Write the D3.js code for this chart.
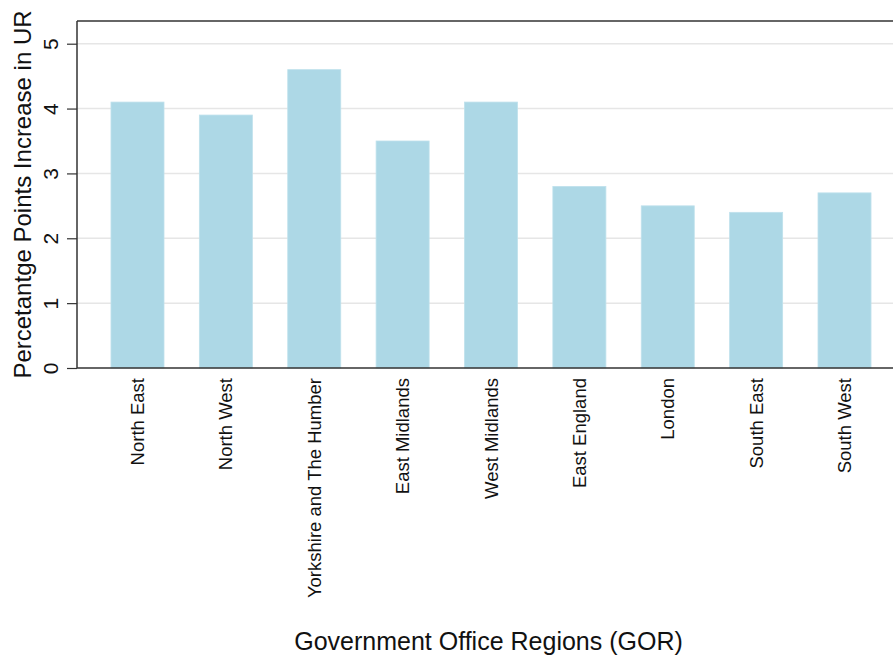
<!DOCTYPE html>
<html>
<head>
<meta charset="utf-8">
<script src="https://cdn.jsdelivr.net/npm/d3@7"></script>
<style>
  html, body { margin: 0; padding: 0; background: #fff; }
  svg { display: block; font-family: "Liberation Sans", Arial, sans-serif; }
</style>
</head>
<body>
<svg id="chart" width="893" height="662"></svg>
<script>
const regions = ["North East", "North West", "Yorkshire and The Humber", "East Midlands", "West Midlands", "East England", "London", "South East", "South West"];
const increase = [4.1, 3.9, 4.6, 3.5, 4.1, 2.8, 2.5, 2.4, 2.7];
const yTicks = [0, 1, 2, 3, 4, 5];
const yTitle = "Percetantge Points Increase in UR";
const xTitle = "Government Office Regions (GOR)";

(function () {
const svg = d3.select("#chart");
const pLeft = 77, pRight = 893, pTop = 21, pBottom = 368;

const x = d3.scaleBand().domain(regions).range([93.3, 888.7]).paddingInner(0.4).paddingOuter(0.2);
const y = d3.scaleLinear().domain([0, 5.35]).range([pBottom, pTop]);

// gridlines
svg.append("g").selectAll("line").data(yTicks.filter(d => d > 0)).join("line")
  .attr("x1", pLeft).attr("x2", pRight)
  .attr("y1", d => y(d)).attr("y2", d => y(d))
  .attr("stroke", "#e6e6e6").attr("stroke-width", 1.5);

// bars
svg.append("g").selectAll("rect").data(regions).join("rect")
  .attr("x", d => x(d))
  .attr("y", (d, i) => y(increase[i]))
  .attr("width", x.bandwidth())
  .attr("height", (d, i) => y(0) - y(increase[i]))
  .attr("fill", "#add8e6")
  .attr("stroke", "#bfe1ec").attr("stroke-width", 0.8);

// top border
svg.append("line").attr("x1", pLeft).attr("x2", pRight).attr("y1", pTop).attr("y2", pTop)
  .attr("stroke", "#333").attr("stroke-width", 1.5);

// y axis
const yAxis = svg.append("g").attr("transform", `translate(${pLeft},0)`)
  .call(d3.axisLeft(y).tickValues(yTicks).tickSize(10).tickPadding(0).tickFormat(d3.format("d")));
yAxis.select(".domain").attr("stroke", "#333").attr("stroke-width", 1.5)
  .attr("d", `M0,${pTop}V${pBottom}`);
yAxis.selectAll(".tick line").attr("stroke", "#333").attr("stroke-width", 1.2);
yAxis.selectAll(".tick text")
  .attr("x", null).attr("dy", null)
  .attr("transform", "translate(-19,0) rotate(-90)")
  .attr("text-anchor", "middle")
  .attr("fill", "#111")
  .style("font-size", "21px");

// x axis
const xAxis = svg.append("g").attr("transform", `translate(0,${pBottom})`)
  .call(d3.axisBottom(x).tickSize(0).tickPadding(0));
xAxis.select(".domain").attr("stroke", "#333").attr("stroke-width", 1.5)
  .attr("d", `M${pLeft},0H${pRight}`);
xAxis.selectAll(".tick text")
  .attr("y", null).attr("dy", null)
  .attr("transform", "translate(6.5,10) rotate(-90)")
  .attr("text-anchor", "end")
  .attr("fill", "#111")
  .style("font-size", "18.5px");

// titles
svg.append("text")
  .attr("transform", `translate(31,${(pTop + pBottom) / 2}) rotate(-90)`)
  .attr("text-anchor", "middle")
  .attr("fill", "#111")
  .style("font-size", "24px")
  .text(yTitle);

svg.append("text")
  .attr("x", 488.5).attr("y", 650)
  .attr("text-anchor", "middle")
  .attr("fill", "#111")
  .style("font-size", "25px")
  .text(xTitle);
})();
</script>
</body>
</html>
